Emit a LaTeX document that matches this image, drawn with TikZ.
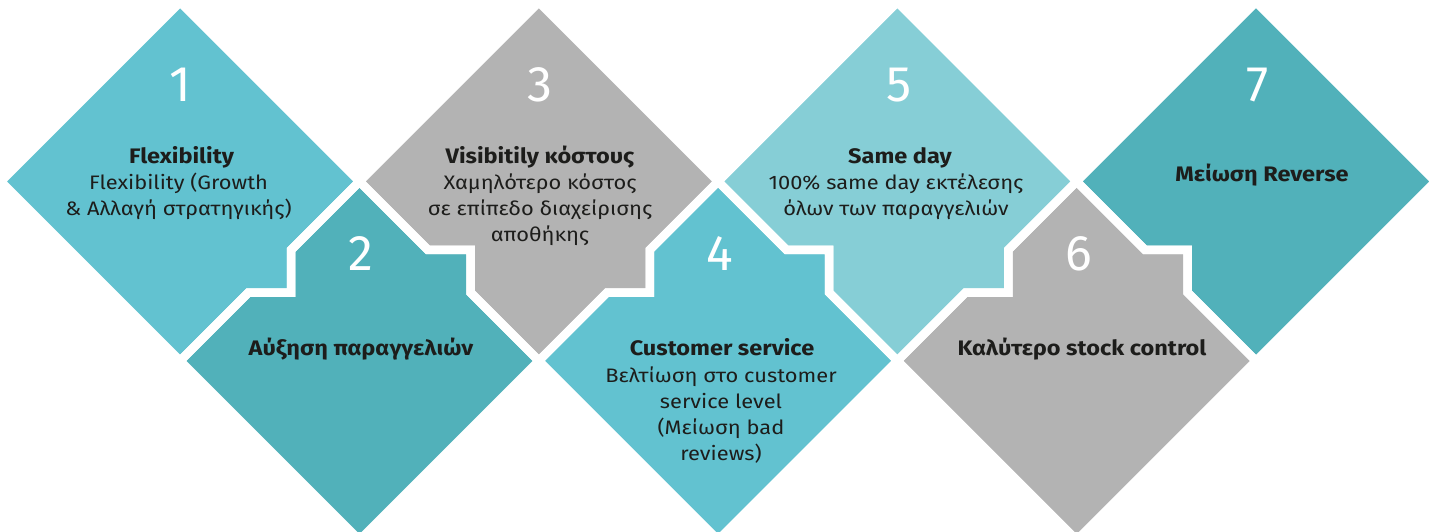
\documentclass[tikz,border=0pt]{standalone}
\usepackage{fontspec}
\setmainfont{Fira Sans}[FakeStretch=1.12]
\newfontfamily\numfont{Fira Sans}
\definecolor{tealA}{RGB}{98,194,208}
\definecolor{tealB}{RGB}{81,177,186}
\definecolor{tealC}{RGB}{134,206,214}
\definecolor{greyA}{RGB}{179,179,179}
\definecolor{ink}{RGB}{29,29,27}
\def\diaH{179.3}\def\diaA{111}\def\diaB{68.3}
\def\updiaTab{(0,\diaH) -- (\diaH,0) -- (\diaA,-\diaB) -- (\diaA,-\diaA) -- (\diaB,-\diaA) -- (0,-\diaH) -- (-\diaH,0) -- cycle}
\def\updiaBoth{(0,\diaH) -- (\diaH,0) -- (\diaA,-\diaB) -- (\diaA,-\diaA) -- (\diaB,-\diaA) -- (0,-\diaH) -- (-\diaB,-\diaA) -- (-\diaB,-\diaB) -- (-\diaA,-\diaB) -- (-\diaH,0) -- cycle}
\def\updiaNotch{(0,\diaH) -- (\diaH,0) -- (0,-\diaH) -- (-\diaB,-\diaA) -- (-\diaB,-\diaB) -- (-\diaA,-\diaB) -- (-\diaH,0) -- cycle}
\def\lowdia{(0,\diaH) -- (\diaB,\diaA) -- (\diaA,\diaA) -- (\diaA,\diaB) -- (\diaH,0) -- (0,-\diaH) -- (-\diaH,0) -- (-\diaA,\diaB) -- (-\diaB,\diaB) -- (-\diaB,\diaA) -- cycle}
\tikzset{
  gapline/.style={draw=white, line width=8.5pt, line join=miter},
  numtxt/.style={text=white, font=\numfont\fontsize{50}{50}\selectfont, anchor=base, inner sep=0pt},
  titletxt/.style={text=ink, font=\bfseries\fontsize{21}{26}\selectfont, anchor=base, inner sep=0pt},
  bodytxt/.style={text=ink, font=\fontsize{19.5}{26}\selectfont, anchor=base, inner sep=0pt}
}
\begin{document}
\begin{tikzpicture}[x=1pt,y=1pt]
\useasboundingbox (0,0) rectangle (1429,531);
\clip (0,0) rectangle (1429,531);
% fills
\fill[tealA, shift={(180.2,349.5)}] \updiaTab;
\fill[tealB, shift={(359.5,170.2)}] \lowdia;
\fill[greyA, shift={(538.8,349.5)}] \updiaBoth;
\fill[tealA, shift={(718.1,170.2)}] \lowdia;
\fill[tealC, shift={(897.4,349.5)}] \updiaBoth;
\fill[greyA, shift={(1076.7,170.2)}] \lowdia;
\fill[tealB, shift={(1256.0,349.5)}] \updiaNotch;
% white gaps
\path[gapline, shift={(180.2,349.5)}] \updiaTab;
\path[gapline, shift={(359.5,170.2)}] \lowdia;
\path[gapline, shift={(538.8,349.5)}] \updiaBoth;
\path[gapline, shift={(718.1,170.2)}] \lowdia;
\path[gapline, shift={(897.4,349.5)}] \updiaBoth;
\path[gapline, shift={(1076.7,170.2)}] \lowdia;
\path[gapline, shift={(1256.0,349.5)}] \updiaNotch;
% numbers
\node[numtxt] (n1) at (180.5,429.3) {1};
\node[numtxt] (n2) at (360.5,260.5) {2};
\node[numtxt] (n3) at (539.5,429.3) {3};
\node[numtxt] (n4) at (719.5,260.5) {4};
\node[numtxt] (n5) at (899.0,429.3) {5};
\node[numtxt] (n6) at (1079.0,260.5) {6};
\node[numtxt] (n7) at (1257.5,429.3) {7};
% diamond 1
\node[titletxt] (t1) at (181.5,367.7) {Flexibility};
\node[bodytxt] (b1a) at (178.5,341.7) {Flexibility (Growth};
\node[bodytxt] (b1b) at (178.5,315.7) {\& Αλλαγή στρατηγικής)};
% diamond 2
\node[titletxt] (t2) at (361,175.5) {Αύξηση παραγγελιών};
% diamond 3
\node[titletxt] (t3) at (540,367.7) {Visibitily κόστους};
\node[bodytxt] (b3a) at (540,341.7) {Χαμηλότερο κόστος};
\node[bodytxt] (b3b) at (540,315.7) {σε επίπεδο διαχείρισης};
\node[bodytxt] (b3c) at (540,289.7) {αποθήκης};
% diamond 4
\node[titletxt] (t4) at (722,175.5) {Customer service};
\node[bodytxt] (b4a) at (721,149) {Βελτίωση στο customer};
\node[bodytxt] (b4b) at (721,123) {service level};
\node[bodytxt] (b4c) at (721,97) {(Μείωση bad};
\node[bodytxt] (b4d) at (721,71) {reviews)};
% diamond 5
\node[titletxt] (t5) at (900,367.7) {Same day};
\node[bodytxt] (b5a) at (896,341.7) {100\% same day εκτέλεσης};
\node[bodytxt] (b5b) at (896,315.7) {όλων των παραγγελιών};
% diamond 6
\node[titletxt] (t6) at (1082,175.5) {Καλύτερο stock control};
% diamond 7
\node[titletxt] (t7) at (1262,349.6) {Μείωση Reverse};
\end{tikzpicture}
\end{document}
